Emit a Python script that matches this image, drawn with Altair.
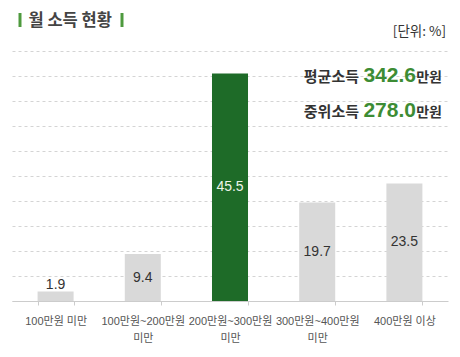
import altair as alt
import pandas as pd

categories = ["100만원 미만", "100만원~200만원\n미만", "200만원~300만원\n미만",
              "300만원~400만원\n미만", "400만원 이상"]
values = [1.9, 9.4, 45.5, 19.7, 23.5]
bar_colors = ["#d9d9d9", "#d9d9d9", "#1e6b28", "#d9d9d9", "#d9d9d9"]
label_colors = ["#333333", "#333333", "#eef5ea", "#333333", "#333333"]
grid_values = [0, 5, 10, 15, 20, 25, 30, 35, 40, 45, 50]

title_text = "월 소득 현황"
unit_text = "[단위: %]"
stat_names = ["평균소득", "중위소득"]
stat_values = ["342.6", "278.0"]
stat_unit = "만원"

FONT = "Liberation Sans, 'Noto Sans CJK KR', sans-serif"
KFONT = "'Noto Sans CJK KR', sans-serif"

df = pd.DataFrame({"cat": categories, "v": values, "lc": label_colors})

W, H = 436, 250

x_scale = alt.Scale(paddingInner=0.587, paddingOuter=0.2935)
x_axis = alt.Axis(labelAngle=0, tickBand="extent", tickSize=4, grid=False,
                  domainColor="#cccccc", tickColor="#cccccc",
                  labelColor="#555555", labelFontSize=11, labelFont=FONT,
                  labelPadding=10, labelLineHeight=17,
                  labelExpr="split(datum.label, '\\n')",
                  labelOverlap=False, labelLimit=200)
y_scale = alt.Scale(domain=[0, 50], nice=False)
y_axis = alt.Axis(values=grid_values, labels=False, ticks=False,
                  domain=False, grid=True, gridColor="#d4d4d4",
                  gridDash=[3, 3], gridWidth=1)


def X():
    return alt.X("cat:N", sort=categories, title=None, scale=x_scale, axis=x_axis)


base = alt.Chart(df)

bars = base.mark_bar().encode(
    x=X(),
    y=alt.Y("v:Q", title=None, scale=y_scale, axis=y_axis),
    color=alt.Color("cat:N", scale=alt.Scale(domain=categories, range=bar_colors),
                    legend=None),
)

inside = base.transform_filter("datum.v >= 5").transform_calculate(
    mid="datum.v / 2"
).mark_text(fontSize=14, font=FONT, baseline="middle").encode(
    x=X(),
    y=alt.Y("mid:Q", title=None, scale=y_scale, axis=y_axis),
    text=alt.Text("v:Q", format=".1f"),
    color=alt.Color("lc:N", scale=None),
)

above = base.transform_filter("datum.v < 5").mark_text(
    fontSize=14, font=FONT, baseline="bottom"
).encode(
    x=X(),
    y=alt.Y("v:Q", title=None, scale=y_scale, axis=y_axis),
    text=alt.Text("v:Q", format=".1f"),
    color=alt.Color("lc:N", scale=None),
)

ann = pd.DataFrame({"a": [0]})
abase = alt.Chart(ann)

bar_l = abase.mark_rule(color="#4e9a3e", strokeWidth=3).encode(
    x=alt.value(8), y=alt.value(-38), y2=alt.value(-24))
bar_r = abase.mark_rule(color="#4e9a3e", strokeWidth=3).encode(
    x=alt.value(110), y=alt.value(-38), y2=alt.value(-24))
title_t = abase.mark_text(text=title_text, fontSize=16.5, fontWeight="bold", color="#444444",
                          font=KFONT, align="left", baseline="middle").encode(
    x=alt.value(16.5), y=alt.value(-30.5))
unit = abase.mark_text(text=unit_text, fontSize=13.5, color="#333333", font=KFONT,
                       align="right", baseline="middle").encode(
    x=alt.value(434), y=alt.value(-19))

stats = []
for i, (nm, val) in enumerate(zip(stat_names, stat_values)):
    yy = 31 + i * 35
    stats.append(abase.mark_text(text=nm, fontSize=15, fontWeight="bold", color="#333333",
                                 font=KFONT, align="right", baseline="alphabetic").encode(
        x=alt.value(347), y=alt.value(yy)))
    stats.append(abase.mark_text(text=val, fontSize=21, fontWeight="bold", color="#3d8c34",
                                 font=FONT, align="right", baseline="alphabetic").encode(
        x=alt.value(404), y=alt.value(yy)))
    stats.append(abase.mark_text(text=stat_unit, fontSize=14, fontWeight="bold", color="#333333",
                                 font=KFONT, align="right", baseline="alphabetic").encode(
        x=alt.value(430), y=alt.value(yy)))

chart = alt.layer(bars, inside, above, bar_l, title_t, bar_r, unit, *stats).properties(
    width=W, height=H,
    background="#ffffff",
    autosize=alt.AutoSizeParams(type="none"),
    padding={"left": 4, "top": 43, "right": 2, "bottom": 50},
).configure_view(stroke=None)

chart.save("out.html", embed_options={"renderer": "svg", "actions": False})
